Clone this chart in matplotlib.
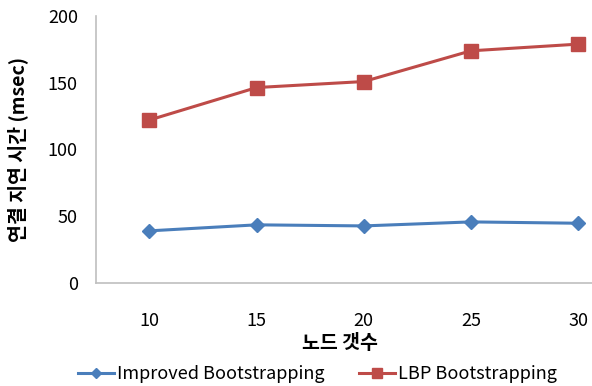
import matplotlib
matplotlib.use("Agg")
import matplotlib.pyplot as plt

plt.rcParams['font.family'] = ['Noto Sans CJK KR', 'DejaVu Sans']

# data
nodes = [10, 15, 20, 25, 30]
improved = [39, 43.5, 42.7, 45.7, 44.7]
lbp = [122, 146.3, 150.8, 173.8, 178.8]
series_names = ['Improved Bootstrapping', 'LBP Bootstrapping']

blue = '#4A7EBB'
red = '#BE4B48'

fig = plt.figure(figsize=(5.92, 3.86), dpi=100)
# axes runs past the right edge, like the cropped original
ax = fig.add_axes([0.162, 0.267, 0.905, 0.692])

ax.plot(nodes, improved, color=blue, lw=2.2, marker='D', ms=7,
        label=series_names[0])
ax.plot(nodes, lbp, color=red, lw=2.2, marker='s', ms=9.5,
        label=series_names[1])

ax.set_xlim(7.5, 32.5)
ax.set_ylim(0, 200)
ax.set_xticks(nodes)
ax.set_yticks([0, 50, 100, 150, 200])
ax.tick_params(axis='both', length=0, labelsize=13)
ax.tick_params(axis='y', pad=13)
ax.tick_params(axis='x', pad=21)

for s in ['top', 'right']:
    ax.spines[s].set_visible(False)
for s in ['left', 'bottom']:
    ax.spines[s].set_color('#BFBFBF')
    ax.spines[s].set_linewidth(1.2)

ax.set_xlabel('노드 갯수', fontsize=14, fontweight='bold')
ax.xaxis.set_label_coords(0.455, -0.19)
ax.set_ylabel('연결 지연 시간 (msec)', fontsize=14, fontweight='bold')
ax.yaxis.set_label_coords(-0.126, 0.5)

fig.legend(loc='center', bbox_to_anchor=(0.536, 0.031), ncol=2,
           frameon=False, fontsize=13, handlelength=2.0, markerscale=0.7,
           columnspacing=1.9, handletextpad=0.15)

fig.savefig('out.png', dpi=100)
